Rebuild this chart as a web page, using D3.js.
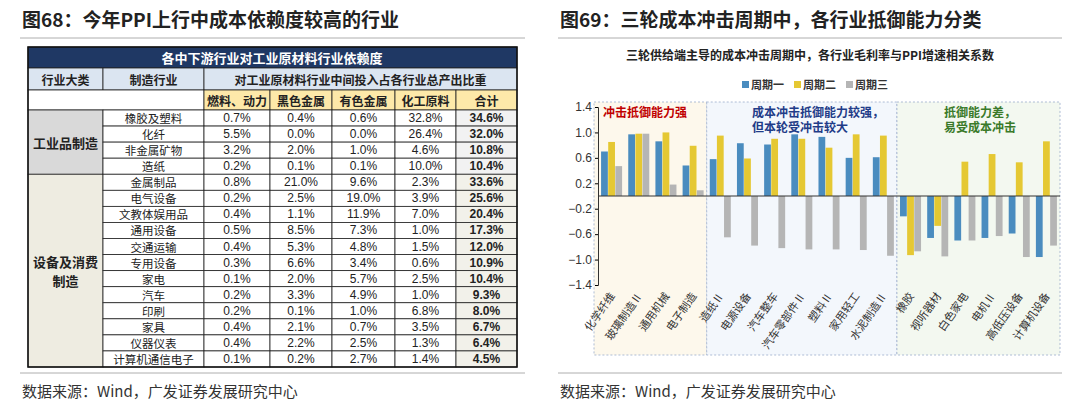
<!DOCTYPE html>
<html><head><meta charset="utf-8">
<script src="https://cdn.jsdelivr.net/npm/d3@7"></script>
<style>body{margin:0;background:#fff}svg{font-family:"Noto Sans CJK SC","Noto Sans",sans-serif}</style>
</head><body><svg id="s" width="1080" height="415"></svg>
<script>
// ---- table data ----
const colHeads = ["燃料、动力","黑色金属","有色金属","化工原料","合计"];
const groups = [{name:["工业品制造"],n:4},{name:["设备及消费","制造"],n:12}];
const industries = ["橡胶及塑料","化纤","非金属矿物","造纸","金属制品","电气设备","文教体娱用品","通用设备","交通运输","专用设备","家电","汽车","印刷","家具","仪器仪表","计算机通信电子"];
const fuel = ["0.7%","5.5%","3.2%","0.2%","0.8%","0.2%","0.4%","0.5%","0.4%","0.3%","0.1%","0.2%","0.2%","0.4%","0.4%","0.1%"];
const ferrous = ["0.4%","0.0%","2.0%","0.1%","21.0%","2.5%","1.1%","8.5%","5.3%","6.6%","2.0%","3.3%","0.1%","2.1%","2.2%","0.2%"];
const nonferrous = ["0.6%","0.0%","1.0%","0.1%","9.6%","19.0%","11.9%","7.3%","4.8%","3.4%","5.7%","4.9%","1.0%","0.7%","2.5%","2.7%"];
const chem = ["32.8%","26.4%","4.6%","10.0%","2.3%","3.9%","7.0%","1.0%","1.5%","0.6%","2.5%","1.0%","6.8%","3.5%","1.3%","1.4%"];
const total = ["34.6%","32.0%","10.8%","10.4%","33.6%","25.6%","20.4%","17.3%","12.0%","10.9%","10.4%","9.3%","8.0%","6.7%","6.4%","4.5%"];
// ---- chart data ----
const categories = ["化学纤维","玻璃制造Ⅱ","通用机械","电子制造","造纸Ⅱ","电源设备","汽车整车","汽车零部件Ⅱ","塑料Ⅱ","家用轻工","水泥制造Ⅱ","橡胶","视听器材","白色家电","电机Ⅱ","高低压设备","计算机设备"];
const period1 = [0.70,0.97,0.86,0.48,0.58,0.83,0.81,0.97,0.93,0.60,0.61,-0.32,-0.66,-0.70,-0.66,-0.59,-0.96];
const period2 = [0.85,0.98,1.00,0.79,0.95,0.59,0.90,0.90,0.76,0.97,0.95,-0.93,-0.47,0.54,0.66,0.53,0.86];
const period3 = [0.47,0.98,0.18,0.09,-0.65,-0.78,-0.82,-0.84,-0.84,-0.85,-0.94,-0.87,-0.95,-0.70,-0.63,-0.96,-0.78];
const seriesNames = ["周期一","周期二","周期三"];
const yTicks = [1.4,1.0,0.6,0.2,-0.2,-0.6,-1.0,-1.4];
const zones = [{from:0,to:3,label:["冲击抵御能力强"],color:"#c00000",fill:"#fdf8ec",lx:645,anchor:"middle"},
               {from:4,to:10,label:["成本冲击抵御能力较强，","但本轮受冲击较大"],color:"#1f3c88",fill:"#f3f7fc",lx:752,anchor:"start"},
               {from:11,to:16,label:["抵御能力差，","易受成本冲击"],color:"#3a7a2a",fill:"#f3f8f0",lx:980,anchor:"middle"}];

const svg = d3.select("#s");
function title(x,txt){svg.append("text").attr("x",x).attr("y",27).attr("font-size",19).attr("font-weight","bold").attr("fill","#222").text(txt);}
title(22,"图68：今年PPI上行中成本依赖度较高的行业");
title(560,"图69：三轮成本冲击周期中，各行业抵御能力分类");
[[20,525],[558,1062]].forEach(([a,b])=>{
  svg.append("line").attr("x1",a).attr("x2",b).attr("y1",38).attr("y2",38).attr("stroke","#999").attr("stroke-width",0.8);
  svg.append("line").attr("x1",a).attr("x2",b).attr("y1",373).attr("y2",373).attr("stroke","#999").attr("stroke-width",0.8);
  svg.append("text").attr("x",a+2).attr("y",397).attr("font-size",15).attr("fill","#333").text("数据来源：Wind，广发证券发展研究中心");
});

// ---- table ----
const cx = [28,103,204,270,332,395,456,517];
const T = svg.append("g");
const rowY = d3.scaleBand().domain(d3.range(16)).range([110,367]);
function cell(x0,x1,y0,y1,fill){T.append("rect").attr("x",x0).attr("y",y0).attr("width",x1-x0).attr("height",y1-y0).attr("fill",fill).attr("stroke","#222").attr("stroke-width",0.8);}
function txt(x,y,t,o={}){T.append("text").attr("x",x).attr("y",y).attr("text-anchor","middle").attr("dominant-baseline","central").attr("font-size",o.fs||12).attr("font-weight",o.b?"bold":"normal").attr("fill",o.c||"#222").attr("font-family",o.f||null).text(t);}
cell(28,517,47,68,"#1f3864"); txt(272,57.5,"各中下游行业对工业原材料行业依赖度",{b:1,c:"#fff",fs:13});
cell(28,103,68,90,"#dbe5f1"); txt(65.5,79,"行业大类",{b:1});
cell(103,204,68,90,"#dbe5f1"); txt(153.5,79,"制造行业",{b:1});
cell(204,517,68,90,"#dbe5f1"); txt(360.5,79,"对工业原材料行业中间投入占各行业总产出比重",{b:1});
cell(28,204,90,110,"#fff");
colHeads.forEach((h,i)=>{cell(cx[i+2],cx[i+3],90,110,"#fde9a9");txt((cx[i+2]+cx[i+3])/2,100,h,{b:1});});
let gi=0;
groups.forEach((g,k)=>{
  const y0=rowY(gi), y1=rowY(gi+g.n-1)+rowY.bandwidth();
  cell(28,103,y0,y1,k==0?"#d9d9d9":"#eeece1");
  g.name.forEach((n,j)=>txt(65.5,(y0+y1)/2+(j-(g.name.length-1)/2)*19,n,{b:1,fs:13}));
  gi+=g.n;
});
const cols=[fuel,ferrous,nonferrous,chem,total];
industries.forEach((ind,r)=>{
  const y0=rowY(r),y1=y0+rowY.bandwidth(),ym=(y0+y1)/2;
  cell(103,204,y0,y1,"#fff"); txt(153.5,ym,ind,{fs:11.5});
  cols.forEach((c,i)=>{
    cell(cx[i+2],cx[i+3],y0,y1,i==4?(r<4?"#f2f2f2":"#f2f1ea"):"#fff");
    txt((cx[i+2]+cx[i+3])/2,ym,c[r],{b:i==4,fs:12,f:"Liberation Sans, Arial"});
  });
});
T.append("rect").attr("x",28).attr("y",47).attr("width",489).attr("height",320).attr("fill","none").attr("stroke","#111").attr("stroke-width",1.5);

// ---- chart ----
svg.append("text").attr("x",810).attr("y",60).attr("text-anchor","middle").attr("font-size",12).attr("font-weight","bold").attr("fill","#222").text("三轮供给端主导的成本冲击周期中，各行业毛利率与PPI增速相关系数");
const colors=["#4a8cbf","#e5c833","#b5b5b5"];
const lg=svg.append("g");
seriesNames.forEach((n,i)=>{
  const x=742+i*52;
  lg.append("rect").attr("x",x).attr("y",81).attr("width",7).attr("height",7).attr("fill",colors[i]);
  lg.append("text").attr("x",x+9).attr("y",89).attr("font-size",11).attr("font-weight","bold").attr("fill","#333").text(n);
});
const x = d3.scaleBand().domain(categories).range([598,1060]).paddingInner(0.2).paddingOuter(0.1);
const y = d3.scaleLinear().domain([-1.4,1.4]).range([285,107]);
const step = x.step();
zones.forEach(z=>{
  const x0 = z.from==0?594:x(categories[z.from])-step*x.paddingInner()/2;
  const x1 = z.to==16?1060:x(categories[z.to])+x.bandwidth()+step*x.paddingInner()/2;
  svg.append("rect").attr("x",x0).attr("y",102).attr("width",x1-x0).attr("height",253).attr("fill",z.fill).attr("stroke","#9aaccc").attr("stroke-dasharray","2,2").attr("stroke-width",0.8);
  z.label.forEach((l,j)=>svg.append("text").attr("x",z.lx).attr("y",117+j*15).attr("text-anchor",z.anchor).attr("font-size",12).attr("font-weight","bold").attr("fill",z.color).text(l));
});
const sub = d3.scaleBand().domain([0,1,2]).range([0,x.bandwidth()]).padding(0.05);
[period1,period2,period3].forEach((s,i)=>{
  svg.append("g").selectAll("rect").data(s).join("rect")
    .attr("x",(d,j)=>x(categories[j])+sub(i)).attr("width",sub.bandwidth())
    .attr("y",d=>y(Math.max(0,d))).attr("height",d=>Math.abs(y(d)-y(0))).attr("fill",colors[i]);
});
const ya=svg.append("g").attr("transform","translate(598,0)").call(d3.axisLeft(y).tickValues(yTicks).tickFormat(d3.format(".1f")).tickSize(3));
ya.select(".domain").attr("stroke","#333");
ya.selectAll("text").attr("font-size",12).attr("fill","#333").attr("font-family","Liberation Sans, Arial");
svg.append("line").attr("x1",598).attr("x2",1060).attr("y1",y(0)).attr("y2",y(0)).attr("stroke","#333");
svg.append("g").selectAll("text").data(categories).join("text")
  .attr("transform",d=>`translate(${x(d)+x.bandwidth()/2+4},${296}) rotate(-55)`)
  .attr("text-anchor","end").attr("font-size",11).attr("fill","#333").text(d=>d);
</script></body></html>
